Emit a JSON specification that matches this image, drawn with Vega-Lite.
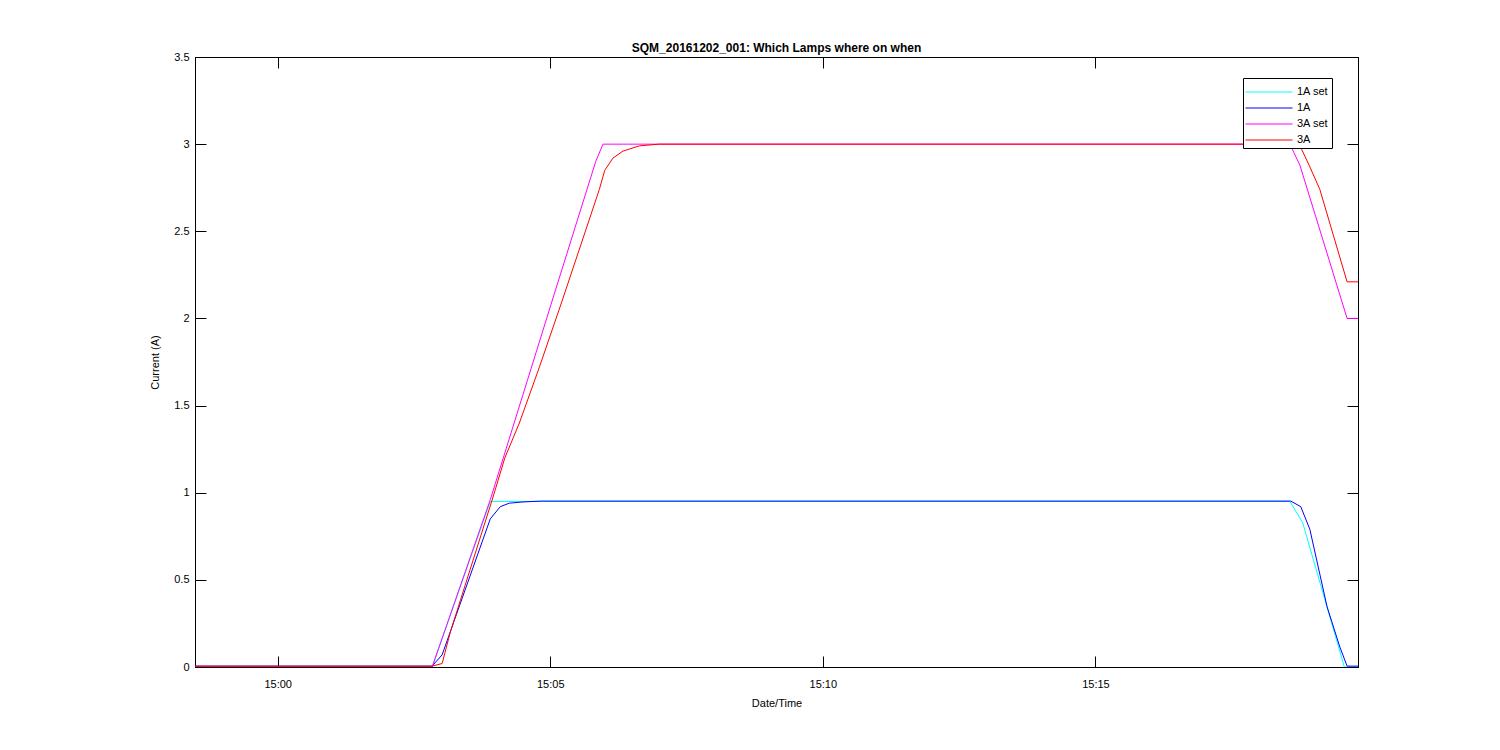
{
  "$schema": "https://vega.github.io/schema/vega-lite/v6.json",
  "width": 1163,
  "height": 610,
  "autosize": {"type": "none"},
  "padding": {"left": 195, "top": 57, "right": 142, "bottom": 83},
  "background": "white",
  "title": {"text": "SQM_20161202_001: Which Lamps where on when", "font": "Liberation Sans", "fontSize": 12, "fontWeight": "bold", "color": "black", "offset": -4, "anchor": "middle"},
  "config": {
    "view": {"stroke": "black", "strokeWidth": 1},
    "axis": {"labelFont": "Liberation Sans", "titleFont": "Liberation Sans", "labelFontSize": 11, "titleFontSize": 11, "labelColor": "black", "titleColor": "black", "titleFontWeight": "normal", "domainColor": "black", "tickColor": "black", "grid": false}
  },
  "data": {"values": [
    {"time": "2016-12-02T14:58:29Z", "series": "1A set", "current": 0},
    {"time": "2016-12-02T15:02:50Z", "series": "1A set", "current": 0},
    {"time": "2016-12-02T15:03:54Z", "series": "1A set", "current": 0.95},
    {"time": "2016-12-02T15:18:34Z", "series": "1A set", "current": 0.95},
    {"time": "2016-12-02T15:18:48Z", "series": "1A set", "current": 0.83},
    {"time": "2016-12-02T15:19:34Z", "series": "1A set", "current": 0},
    {"time": "2016-12-02T15:19:49Z", "series": "1A set", "current": 0},

    {"time": "2016-12-02T14:58:29Z", "series": "1A", "current": 0.005},
    {"time": "2016-12-02T15:02:50Z", "series": "1A", "current": 0.005},
    {"time": "2016-12-02T15:03:01Z", "series": "1A", "current": 0.07},
    {"time": "2016-12-02T15:03:54Z", "series": "1A", "current": 0.85},
    {"time": "2016-12-02T15:04:05Z", "series": "1A", "current": 0.92},
    {"time": "2016-12-02T15:04:15Z", "series": "1A", "current": 0.94},
    {"time": "2016-12-02T15:04:30Z", "series": "1A", "current": 0.947},
    {"time": "2016-12-02T15:04:50Z", "series": "1A", "current": 0.952},
    {"time": "2016-12-02T15:18:35Z", "series": "1A", "current": 0.952},
    {"time": "2016-12-02T15:18:46Z", "series": "1A", "current": 0.92},
    {"time": "2016-12-02T15:18:56Z", "series": "1A", "current": 0.79},
    {"time": "2016-12-02T15:19:15Z", "series": "1A", "current": 0.345},
    {"time": "2016-12-02T15:19:29Z", "series": "1A", "current": 0.115},
    {"time": "2016-12-02T15:19:37Z", "series": "1A", "current": 0.005},
    {"time": "2016-12-02T15:19:49Z", "series": "1A", "current": 0.005},

    {"time": "2016-12-02T14:58:29Z", "series": "3A set", "current": 0},
    {"time": "2016-12-02T15:02:50Z", "series": "3A set", "current": 0},
    {"time": "2016-12-02T15:03:54Z", "series": "3A set", "current": 0.96},
    {"time": "2016-12-02T15:05:02Z", "series": "3A set", "current": 2.1},
    {"time": "2016-12-02T15:05:50Z", "series": "3A set", "current": 2.9},
    {"time": "2016-12-02T15:05:58Z", "series": "3A set", "current": 3.0},
    {"time": "2016-12-02T15:18:34Z", "series": "3A set", "current": 3.0},
    {"time": "2016-12-02T15:18:45Z", "series": "3A set", "current": 2.88},
    {"time": "2016-12-02T15:19:37Z", "series": "3A set", "current": 2.0},
    {"time": "2016-12-02T15:19:49Z", "series": "3A set", "current": 2.0},

    {"time": "2016-12-02T14:58:29Z", "series": "3A", "current": 0.005},
    {"time": "2016-12-02T15:02:50Z", "series": "3A", "current": 0.005},
    {"time": "2016-12-02T15:03:01Z", "series": "3A", "current": 0.02},
    {"time": "2016-12-02T15:03:10Z", "series": "3A", "current": 0.2},
    {"time": "2016-12-02T15:03:56Z", "series": "3A", "current": 0.958},
    {"time": "2016-12-02T15:04:10Z", "series": "3A", "current": 1.2},
    {"time": "2016-12-02T15:04:26Z", "series": "3A", "current": 1.4},
    {"time": "2016-12-02T15:04:48Z", "series": "3A", "current": 1.72},
    {"time": "2016-12-02T15:05:13Z", "series": "3A", "current": 2.1},
    {"time": "2016-12-02T15:05:54Z", "series": "3A", "current": 2.74},
    {"time": "2016-12-02T15:06:00Z", "series": "3A", "current": 2.85},
    {"time": "2016-12-02T15:06:09Z", "series": "3A", "current": 2.92},
    {"time": "2016-12-02T15:06:20Z", "series": "3A", "current": 2.96},
    {"time": "2016-12-02T15:06:38Z", "series": "3A", "current": 2.99},
    {"time": "2016-12-02T15:07:00Z", "series": "3A", "current": 3.0},
    {"time": "2016-12-02T15:18:38Z", "series": "3A", "current": 3.0},
    {"time": "2016-12-02T15:18:47Z", "series": "3A", "current": 2.97},
    {"time": "2016-12-02T15:18:56Z", "series": "3A", "current": 2.87},
    {"time": "2016-12-02T15:19:07Z", "series": "3A", "current": 2.74},
    {"time": "2016-12-02T15:19:37Z", "series": "3A", "current": 2.21},
    {"time": "2016-12-02T15:19:49Z", "series": "3A", "current": 2.21}
  ]},
  "layer": [
    {
      "mark": {"type": "line", "strokeWidth": 1, "clip": true},
      "encoding": {
        "x": {"field": "time", "type": "temporal", "title": "Date/Time",
          "scale": {"type": "utc", "domain": [{"year": 2016, "month": 12, "date": 2, "hours": 14, "minutes": 58, "seconds": 29, "utc": true}, {"year": 2016, "month": 12, "date": 2, "hours": 15, "minutes": 19, "seconds": 49, "utc": true}]},
          "axis": {"orient": "bottom", "format": "%H:%M", "tickSize": -11, "labelPadding": 22, "titleY": 30,
            "values": [
              {"year": 2016, "month": 12, "date": 2, "hours": 15, "minutes": 0, "utc": true},
              {"year": 2016, "month": 12, "date": 2, "hours": 15, "minutes": 5, "utc": true},
              {"year": 2016, "month": 12, "date": 2, "hours": 15, "minutes": 10, "utc": true},
              {"year": 2016, "month": 12, "date": 2, "hours": 15, "minutes": 15, "utc": true}
            ]}},
        "y": {"field": "current", "type": "quantitative", "title": "Current (A)",
          "scale": {"domain": [0, 3.5], "nice": false, "zero": true},
          "axis": {"orient": "left", "values": [0, 0.5, 1, 1.5, 2, 2.5, 3, 3.5], "format": "~g", "tickSize": -11, "labelPadding": 17, "titleX": -35}},
        "color": {"field": "series", "type": "nominal",
          "scale": {"domain": ["1A set", "1A", "3A set", "3A"], "range": ["#00FFFF", "#0000FF", "#FF00FF", "#FF0000"]},
          "legend": {"title": null, "orient": "none", "legendX": 1048, "legendY": 21, "symbolType": "M-2.35,0H2.35", "symbolSize": 400, "symbolStrokeWidth": 1.2, "symbolOffset": 12, "strokeColor": "black", "fillColor": "white", "padding": 3, "labelFont": "Liberation Sans", "labelFontSize": 11, "labelColor": "black", "rowPadding": 0, "labelOffset": 17}}
      }
    },
    {
      "mark": {"type": "line", "opacity": 0},
      "encoding": {
        "x": {"field": "time", "type": "temporal",
          "axis": {"orient": "top", "title": null, "labels": false, "tickSize": -11,
            "values": [
              {"year": 2016, "month": 12, "date": 2, "hours": 15, "minutes": 0, "utc": true},
              {"year": 2016, "month": 12, "date": 2, "hours": 15, "minutes": 5, "utc": true},
              {"year": 2016, "month": 12, "date": 2, "hours": 15, "minutes": 10, "utc": true},
              {"year": 2016, "month": 12, "date": 2, "hours": 15, "minutes": 15, "utc": true}
            ]}},
        "y": {"field": "current", "type": "quantitative",
          "axis": {"orient": "right", "title": null, "labels": false, "tickSize": -11, "values": [0, 0.5, 1, 1.5, 2, 2.5, 3, 3.5]}},
        "detail": {"field": "series"}
      }
    }
  ],
  "resolve": {"axis": {"x": "independent", "y": "independent"}}
}
